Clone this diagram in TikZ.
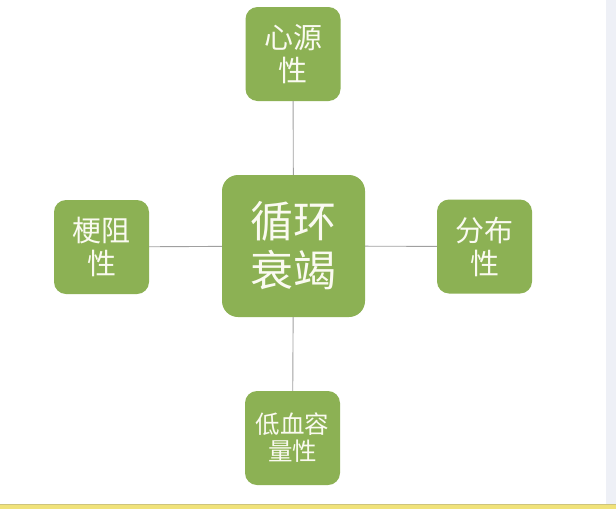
\documentclass[tikz,border=0pt]{standalone}
\usepackage{fontspec}
\newfontfamily\cjk{Noto Sans CJK SC}
\definecolor{leaf}{RGB}{140,177,84}
\definecolor{leaftext}{RGB}{250,250,240}
\definecolor{link}{RGB}{160,160,160}
\definecolor{edgestrip}{RGB}{238,240,246}
\definecolor{footbar}{RGB}{240,226,122}
\begin{document}
\begin{tikzpicture}[
    x=1pt, y=-1pt,
    box/.style={rectangle, fill=leaf, text=leaftext, inner sep=0pt, align=center,
        minimum width=95pt, minimum height=94pt, rounded corners=12pt,
        font=\cjk\fontsize{29}{33}\selectfont},
    hub/.style={box, minimum width=143pt, minimum height=142pt, rounded corners=16pt,
        font=\cjk\fontsize{43}{49}\selectfont},
    link/.style={draw=link, line width=0.9pt}
]
    \useasboundingbox (0,0) rectangle (616,509);
    \fill[white] (0,0) rectangle (616,509);
    \fill[edgestrip] (606,0) rectangle (616,504);
    \fill[footbar] (0,504) rectangle (616,509);
    \draw[draw=footbar!70!gray, line width=0.6pt] (0,504) -- (616,504);

    \node[hub] (main) at (293.5,246) {循环\\衰竭};
    \node[box] (cardio) at (293,54) {心源\\性};
    \node[box] (obst) at (101.5,247) {梗阻\\性};
    \node[box] (distr) at (484.5,246.5) {分布\\性};
    \node[box, font=\cjk\fontsize{24.5}{27}\selectfont] (hypo) at (292.5,438) {低血容\\量性};

    \draw[link] (cardio) -- (main);
    \draw[link] (main) -- (hypo);
    \draw[link] (obst) -- (main);
    \draw[link] (main) -- (distr);
\end{tikzpicture}
\end{document}
